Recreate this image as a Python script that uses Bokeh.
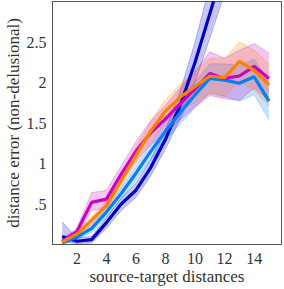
from bokeh.plotting import figure
from bokeh.models import FixedTicker, Range1d
from bokeh.embed import file_html
from bokeh.resources import INLINE

# data
x_all = [1, 2, 3, 4, 5, 6, 7, 8, 9, 10, 11, 12, 13, 14, 15]
x_dark = [1, 2, 3, 4, 5, 6, 7, 8, 9, 10, 11, 12]

dark_mean = [0.10, 0.04, 0.06, 0.27, 0.50, 0.67, 0.95, 1.30, 1.72, 2.25, 2.85, 3.45]
dark_low = [0.04, 0.01, 0.02, 0.20, 0.42, 0.58, 0.85, 1.18, 1.55, 2.00, 2.55, 3.10]
dark_high = [0.28, 0.08, 0.10, 0.33, 0.57, 0.76, 1.05, 1.42, 1.90, 2.50, 3.20, 3.80]

mag_mean = [0.04, 0.16, 0.52, 0.56, 0.87, 1.15, 1.38, 1.55, 1.74, 1.92, 2.11, 2.05, 2.08, 2.20, 2.05]
mag_low = [0.01, 0.12, 0.42, 0.45, 0.77, 1.03, 1.23, 1.38, 1.54, 1.70, 1.84, 1.80, 1.78, 1.93, 1.78]
mag_high = [0.07, 0.20, 0.64, 0.67, 0.97, 1.27, 1.53, 1.72, 1.94, 2.14, 2.38, 2.30, 2.40, 2.48, 2.36]

org_mean = [0.03, 0.13, 0.30, 0.48, 0.79, 1.10, 1.40, 1.65, 1.82, 1.95, 2.08, 2.06, 2.26, 2.15, 1.97]
org_low = [0.01, 0.10, 0.25, 0.42, 0.71, 1.00, 1.28, 1.51, 1.66, 1.75, 1.86, 1.82, 2.02, 1.90, 1.71]
org_high = [0.05, 0.16, 0.35, 0.54, 0.87, 1.20, 1.52, 1.79, 1.98, 2.15, 2.30, 2.30, 2.50, 2.40, 2.23]

lb_mean = [0.02, 0.09, 0.20, 0.40, 0.63, 0.88, 1.15, 1.40, 1.63, 1.85, 2.05, 2.03, 1.99, 2.07, 1.77]
lb_low = [0.00, 0.06, 0.15, 0.34, 0.56, 0.80, 1.05, 1.28, 1.49, 1.69, 1.87, 1.83, 1.77, 1.85, 1.54]
lb_high = [0.04, 0.12, 0.25, 0.46, 0.70, 0.96, 1.25, 1.52, 1.77, 2.01, 2.23, 2.23, 2.21, 2.29, 2.00]

x_ticks = [2, 4, 6, 8, 10, 12, 14]
y_ticks = [0.5, 1, 1.5, 2, 2.5]
y_labels = {0.5: ".5", 1: "1", 1.5: "1.5", 2: "2", 2.5: "2.5"}

DARK = "#0000c8"
MAG = "#c800c8"
ORG = "#ff8000"
LB = "#0080ff"

p = figure(width=284, height=289, output_backend="svg", toolbar_location=None,
           x_range=Range1d(0.35, 15.85), y_range=Range1d(0.0, 3.0),
           min_border_left=48, min_border_right=3, min_border_top=1,
           min_border_bottom=45)

p.xgrid.visible = False
p.ygrid.visible = False
p.outline_line_color = "#555555"
p.outline_line_width = 1

series = [
    (x_dark, dark_mean, dark_low, dark_high, DARK),
    (x_all, lb_mean, lb_low, lb_high, LB),
    (x_all, mag_mean, mag_low, mag_high, MAG),
    (x_all, org_mean, org_low, org_high, ORG),
]
for xs, m, lo, hi, c in series:
    p.varea(x=xs, y1=lo, y2=hi, fill_color=c, fill_alpha=0.22)
    p.line(x=xs, y=lo, line_color=c, line_alpha=0.25, line_width=1)
    p.line(x=xs, y=hi, line_color=c, line_alpha=0.25, line_width=1)
for xs, m, lo, hi, c in series:
    p.line(x=xs, y=m, line_color=c, line_width=3.2)

FONT = "Liberation Serif"
for ax in (p.xaxis[0], p.yaxis[0]):
    ax.major_tick_in = 0
    ax.major_tick_out = 0
    ax.minor_tick_line_color = None
    ax.axis_line_color = "#555555"
    ax.major_label_text_font = FONT
    ax.major_label_text_font_size = "16px"
    ax.major_label_text_color = "#333333"
    ax.axis_label_text_font = FONT
    ax.axis_label_text_font_size = "17px"
    ax.axis_label_text_font_style = "normal"
    ax.axis_label_text_color = "#333333"

p.xaxis.ticker = FixedTicker(ticks=x_ticks)
p.yaxis.ticker = FixedTicker(ticks=y_ticks)
p.yaxis.major_label_overrides = y_labels
p.xaxis.axis_label = "source-target distances"
p.yaxis.axis_label = "distance error (non-delusional)"
p.xaxis.major_label_standoff = 8
p.yaxis.major_label_standoff = 6
p.xaxis.axis_label_standoff = 0
p.yaxis.axis_label_standoff = 1

open("out.html", "w").write(file_html(p, INLINE))
